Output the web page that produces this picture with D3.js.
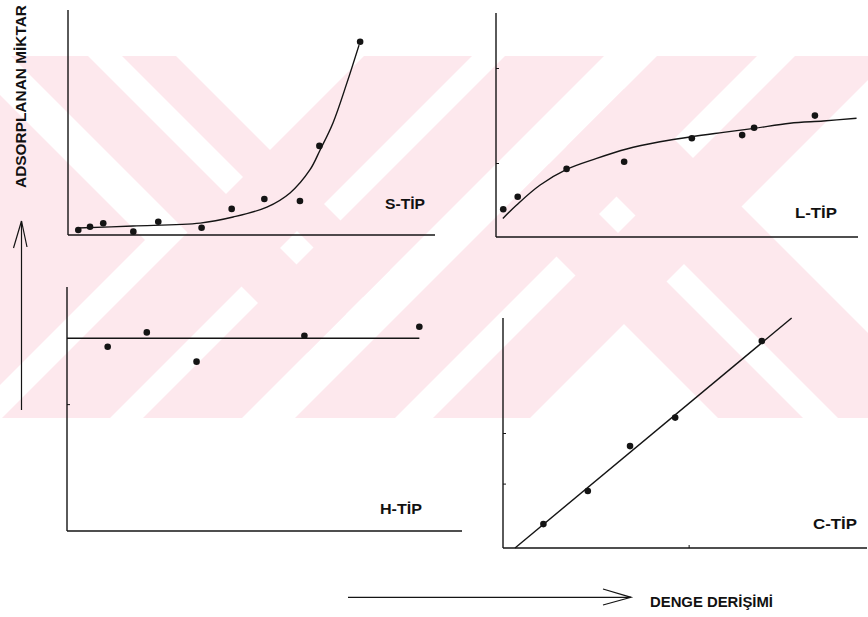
<!DOCTYPE html>
<html>
<head>
<meta charset="utf-8">
<script src="https://cdn.jsdelivr.net/npm/d3@7"></script>
<style>
  html, body { margin: 0; padding: 0; background: #fff; }
  svg { display: block; }
  text { font-family: "Liberation Sans", Arial, sans-serif; fill: #111; }
</style>
</head>
<body>
<svg id="chart" width="868" height="617"></svg>
<script>
// ---- S-type isotherm: measured points and fitted curve ----
const sPointX = [2.8, 6.0, 9.6, 17.8, 24.6, 36.4, 44.6, 53.5, 63.2, 68.5, 79.6];
const sPointY = [2.2, 3.7, 5.2, 1.5, 5.9, 3.2, 11.6, 16.0, 15.1, 39.6, 85.9];
const sCurveX = [2.5, 17.7, 36.0, 45.0, 54.2, 60.5, 65.9, 68.7, 72.2, 76.0, 79.3];
const sCurveY = [3.1, 4.0, 5.3, 8.0, 12.4, 18.7, 28.9, 37.8, 49.8, 67.6, 84.4];

// ---- L-type isotherm ----
const lPointX = [2.0, 6.0, 19.5, 35.4, 54.1, 68.0, 71.3, 88.1];
const lPointY = [12.4, 18.0, 30.4, 33.6, 44.1, 45.5, 48.8, 54.2];
const lCurveX = [1.9, 5.7, 12.2, 19.5, 27.8, 36.1, 45.3, 54.1, 62.8, 71.3, 81.2, 90.4, 99.6];
const lCurveY = [8.3, 14.3, 23.2, 30.2, 35.1, 39.3, 42.5, 44.8, 46.7, 48.5, 50.8, 51.8, 53.0];

// ---- H-type isotherm ----
const hPointX = [10.3, 20.2, 32.8, 60.1, 89.2];
const hPointY = [75.5, 81.4, 69.4, 80.0, 83.7];
const hLineX = [0, 89.2];
const hLineY = [79.0, 79.0];

// ---- C-type isotherm ----
const cPointX = [11.1, 23.3, 34.9, 47.3, 71.1];
const cPointY = [10.4, 24.8, 44.3, 56.7, 90.0];
const cLineX = [3.3, 79.3];
const cLineY = [0, 100];

// ---- small axis tick marks (value units) ----
const lYTicks = [100 * (237 - 68) / 224, 100 * (237 - 163) / 224];
const hYTicks = [52];
const cYTicks = [50, 28];
const cXTicks = [51];

// ---- captions ----
const panelLabels = ["S-TİP", "L-TİP", "H-TİP", "C-TİP"];
const yTitle = "ADSORPLANAN MİKTAR";
const xTitle = "DENGE DERİŞİMİ";

const svg = d3.select("#chart");
const ink = "#141414";

// ---- background emblem: pale diagonal bands (u = x + y, v = x - y) ----
const backdropRegions = [
  { u: [420, 528] }, { u: [561, 660] }, { u: [713, 813] }, { u: [851, 948] },
  { v: [-45, 32], u: [-1e4, 660] }, { v: [66, 120], u: [-1e4, 660] },
  { v: [300, 385], u: [713, 1e4] }, { v: [420, 535], u: [713, 1e4] },
  { v: [-1e4, -95], u: [-1e4, 385] }
];
function clipHalf(poly, a, b, c) { // keep a*x + b*y <= c
  const out = [];
  for (let i = 0; i < poly.length; i++) {
    const p = poly[i], q = poly[(i + 1) % poly.length];
    const fp = a * p[0] + b * p[1] - c, fq = a * q[0] + b * q[1] - c;
    if (fp <= 0) out.push(p);
    if ((fp < 0 && fq > 0) || (fp > 0 && fq < 0)) {
      const t = fp / (fp - fq);
      out.push([p[0] + t * (q[0] - p[0]), p[1] + t * (q[1] - p[1])]);
    }
  }
  return out;
}
const bandTop = 56, bandBottom = 418;
const backdrop = svg.append("g");
backdropRegions.forEach(r => {
  let poly = [[0, bandTop], [868, bandTop], [868, bandBottom], [0, bandBottom]];
  if (r.u) { poly = clipHalf(poly, -1, -1, -r.u[0]); poly = clipHalf(poly, 1, 1, r.u[1]); }
  if (r.v) { poly = clipHalf(poly, -1, 1, -r.v[0]); poly = clipHalf(poly, 1, -1, r.v[1]); }
  if (poly.length > 2) {
    backdrop.append("path").attr("d", d3.line()(poly) + "Z").attr("fill", "#fde8ed");
  }
});

// ---- panel builder ----
function panel(cfg) {
  const x = d3.scaleLinear().domain([0, 100]).range([cfg.left, cfg.right]);
  const y = d3.scaleLinear().domain([0, 100]).range([cfg.bottom, cfg.top]);
  const g = svg.append("g");
  // axes
  const yAxis = d3.axisLeft(y).tickValues(cfg.yTicks || []).tickSize(-3).tickFormat("");
  const xAxis = d3.axisBottom(x).tickValues(cfg.xTicks || []).tickSize(-3).tickFormat("");
  const ya = g.append("g").attr("transform", `translate(${cfg.left},0)`).call(yAxis);
  const xa = g.append("g").attr("transform", `translate(0,${cfg.bottom})`).call(xAxis);
  [ya, xa].forEach(a => {
    a.select(".domain").attr("stroke", ink).attr("stroke-width", 1.4);
    a.selectAll(".tick line").attr("stroke", ink).attr("stroke-width", 1);
  });
  ya.select(".domain").attr("d", `M0,${cfg.bottom}V${cfg.top}`);
  xa.select(".domain").attr("d", `M${cfg.left},0H${cfg.xEnd}`);
  // fitted line
  const pts = cfg.lineX.map((d, i) => [x(d), y(cfg.lineY[i])]);
  g.append("path")
    .attr("d", d3.line().curve(d3.curveCatmullRom.alpha(0.5))(pts))
    .attr("fill", "none").attr("stroke", ink).attr("stroke-width", 1.4);
  // measured points
  g.selectAll("circle.pt").data(cfg.px).join("circle")
    .attr("class", "pt")
    .attr("cx", d => x(d)).attr("cy", (d, i) => y(cfg.py[i]))
    .attr("r", 3.3).attr("fill", ink);
  // label
  g.append("text").attr("x", cfg.labelX).attr("y", cfg.labelY)
    .attr("font-size", 14).attr("font-weight", "bold")
    .attr("textLength", cfg.labelW).attr("lengthAdjust", "spacingAndGlyphs")
    .text(cfg.label);
}

panel({ left: 68, right: 435, top: 10, bottom: 235, xEnd: 435,
  lineX: sCurveX, lineY: sCurveY, px: sPointX, py: sPointY,
  label: panelLabels[0], labelX: 385, labelY: 209, labelW: 40 });
panel({ left: 496, right: 858, top: 13, bottom: 237, xEnd: 858,
  lineX: lCurveX, lineY: lCurveY, px: lPointX, py: lPointY, yTicks: lYTicks,
  label: panelLabels[1], labelX: 795, labelY: 218, labelW: 42 });
panel({ left: 67, right: 462, top: 287, bottom: 531, xEnd: 462,
  lineX: hLineX, lineY: hLineY, px: hPointX, py: hPointY, yTicks: hYTicks,
  label: panelLabels[2], labelX: 380, labelY: 514, labelW: 42 });
panel({ left: 503, right: 867, top: 318, bottom: 548, xEnd: 867,
  lineX: cLineX, lineY: cLineY, px: cPointX, py: cPointY, yTicks: cYTicks, xTicks: cXTicks,
  label: panelLabels[3], labelX: 813, labelY: 529, labelW: 44 });

// ---- shared axis arrows and titles ----
const arrows = svg.append("g").attr("fill", "none").attr("stroke", ink).attr("stroke-width", 1.2);
arrows.append("path").attr("d", "M21.5,410V221");
arrows.append("path").attr("d", "M13.5,248L21.5,221L27,247");
arrows.append("path").attr("d", "M348,597.3H631");
arrows.append("path").attr("d", "M603,589L631,597.3L603,605");

svg.append("text")
  .attr("transform", "translate(26,188) rotate(-90)")
  .attr("font-size", 14.5).attr("font-weight", "bold")
  .attr("textLength", 183).attr("lengthAdjust", "spacingAndGlyphs")
  .text(yTitle);
svg.append("text").attr("x", 650).attr("y", 607)
  .attr("font-size", 14).attr("font-weight", "bold")
  .attr("textLength", 123).attr("lengthAdjust", "spacingAndGlyphs")
  .text(xTitle);
</script>
</body>
</html>
